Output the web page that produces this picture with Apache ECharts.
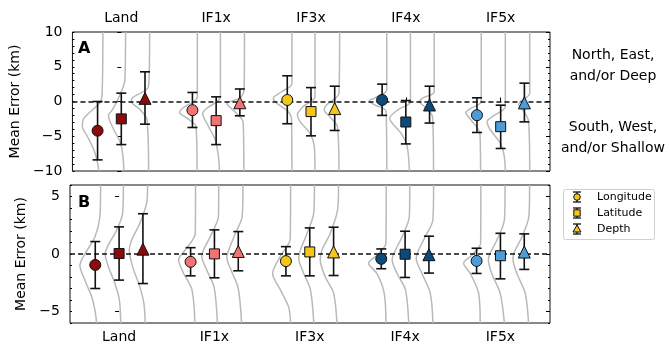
<!DOCTYPE html>
<html><head><meta charset="utf-8">
<script src="https://cdn.jsdelivr.net/npm/echarts@6/dist/echarts.min.js"></script>
<style>html,body{margin:0;padding:0;background:#fff}#c{width:670px;height:348px}</style>
</head><body><div id="c"></div>
<script>
// ---------------- DATA ----------------
const categories = ['Land', 'IF1x', 'IF3x', 'IF4x', 'IF5x'];
const variables = ['Longitude', 'Latitude', 'Depth'];
const yTicksA = [-10, -5, 0, 5, 10];
const yTicksB = [-5, 0, 5];

// Panel A: mean error and error-bar limits (km)
const A_lon_mean = [-4.2, -1.25, 0.22, 0.22, -1.97];
const A_lon_low  = [-8.4, -3.74, -3.2, -2.0, -4.46];
const A_lon_high = [0.0, 1.3, 3.7, 2.5, 0.53];
const A_lat_mean = [-2.5, -2.75, -1.45, -2.95, -3.62];
const A_lat_low  = [-6.2, -6.2, -4.94, -6.1, -6.76];
const A_lat_high = [1.2, 0.67, 2.0, 0.14, -0.53];
const A_dep_mean = [0.45, -0.18, -1.02, -0.5, -0.2];
const A_dep_low  = [-3.26, -2.06, -4.17, -3.1, -2.93];
const A_dep_high = [4.27, 1.8, 2.2, 2.2, 2.64];

// Panel B
const B_lon_mean = [-0.95, -0.68, -0.62, -0.42, -0.6];
const B_lon_low  = [-3.0, -1.9, -1.9, -1.28, -1.69];
const B_lon_high = [1.08, 0.55, 0.64, 0.44, 0.5];
const B_lat_mean = [0.04, 0.01, 0.18, -0.02, -0.15];
const B_lat_low  = [-2.27, -2.07, -1.9, -2.04, -2.16];
const B_lat_high = [2.36, 2.1, 2.27, 1.98, 1.8];
const B_dep_mean = [0.42, 0.22, 0.18, -0.06, 0.17];
const B_dep_low  = [-2.57, -1.46, -1.87, -1.66, -1.34];
const B_dep_high = [3.5, 1.95, 2.33, 1.55, 1.75];

// Distribution outlines: [error value, horizontal extent (x-axis units) relative to marker]
const A_lon_kde = [
  [[10,.056],[1.7,.049],[0,.031],[-2.4,-.143],[-3.6,-.161],[-5.0,-.108],[-7.0,-.038],[-8.4,-.007],[-10,.014]],
  [[10,.052],[0.7,.052],[-1.0,-.108],[-1.6,-.136],[-2.4,-.056],[-3.6,.038],[-10,.049]],
  [[10,.049],[2.6,.049],[1.4,-.059],[0.5,-.147],[-0.24,-.112],[-1.44,.010],[-2.6,.045],[-10,.049]],
  [[10,.049],[1.7,.049],[0.5,-.080],[0.14,-.133],[-0.5,-.080],[-1.4,.042],[-10,.049]],
  [[10,.045],[0,.045],[-1.0,-.066],[-1.6,-.119],[-2.6,-.066],[-4.6,.031],[-10,.038]]
];
const A_lat_kde = [
  [[10,.045],[3.1,.038],[0.5,-.03],[-1.2,-.094],[-2.0,-.136],[-4.1,-.077],[-6,-.007],[-7.9,.017],[-10,.028]],
  [[10,.045],[0.7,.045],[-1.0,-.10],[-1.7,-.143],[-3.6,-.08],[-5.5,-.01],[-7.9,.024],[-10,.035]],
  [[10,.042],[0.7,.042],[-0.7,-.080],[-1.9,-.143],[-2.9,-.115],[-4.6,-.010],[-6.5,.035],[-10,.042]],
  [[10,.049],[0,.049],[-1.2,-.084],[-2.4,-.171],[-4.6,-.049],[-6.5,.014],[-10,.038]],
  [[10,.049],[-0.7,.049],[-2.2,-.091],[-2.9,-.143],[-4.1,-.108],[-6,-.003],[-7.9,.038],[-10,.049]]
];
const A_dep_kde = [
  [[10,.049],[2.2,.038],[0.5,-.136],[0,-.143],[-1.2,-.049],[-2.6,.021],[-10,.038]],
  [[10,.049],[1.8,.045],[0.5,.0],[-0.3,-.137],[-1.5,-.05],[-3,.035],[-10,.042]],
  [[10,.052],[1.2,.045],[-0.5,-.087],[-1.2,-.112],[-2.2,-.052],[-3.6,.028],[-10,.045]],
  [[10,.049],[1.4,.049],[0.5,-.073],[0,-.108],[-0.7,-.056],[-2.2,.031],[-10,.042]],
  [[10,.056],[1.2,.056],[0,-.042],[-0.5,-.059],[-1.4,-.007],[-2.9,.045],[-10,.056]]
];
const B_lon_kde = [
  [[6,.056],[3.3,.049],[1.5,-.003],[-0.23,-.126],[-1,-.161],[-2.3,-.108],[-3.7,-.038],[-4.9,-.003],[-6,.014]],
  [[6,.052],[1.8,.049],[0.35,-.056],[-0.5,-.126],[-1.7,-.073],[-3.1,.014],[-6,.045]],
  [[6,.049],[1.3,.045],[-0.2,-.059],[-1.7,-.140],[-3.1,-.059],[-4.6,.028],[-6,.049]],
  [[6,.052],[0.93,.049],[-0.1,-.045],[-0.8,-.133],[-1.7,-.045],[-3.4,.031],[-6,.049]],
  [[6,.045],[0.93,.042],[-0.1,-.049],[-0.8,-.136],[-1.7,-.066],[-3.4,.021],[-6,.038]]
];
const B_lat_kde = [
  [[6,.045],[3.6,.038],[2.1,-.024],[0.8,-.112],[0,-.147],[-1.1,-.112],[-2.6,-.042],[-4,.003],[-6,.017]],
  [[6,.045],[3.3,.042],[1.5,-.045],[0.35,-.115],[-0.2,-.133],[-1.4,-.080],[-2.9,-.003],[-6,.031]],
  [[6,.049],[3.6,.042],[1.8,-.028],[0.35,-.098],[-0.4,-.115],[-1.7,-.063],[-3.1,.007],[-6,.042]],
  [[6,.049],[3.3,.045],[1.5,-.031],[0.35,-.101],[-0.5,-.136],[-1.7,-.084],[-3.1,.003],[-6,.038]],
  [[6,.049],[3,.042],[1.2,-.038],[0.06,-.108],[-0.5,-.126],[-1.7,-.091],[-3.4,-.003],[-6,.042]]
];
const B_dep_kde = [
  [[6,.049],[4.4,.038],[2.7,-.031],[1.2,-.119],[0.35,-.143],[-1.1,-.108],[-2.9,-.031],[-4.3,.010],[-6,.024]],
  [[6,.049],[3.3,.042],[1.8,-.03],[0.35,-.10],[-0.3,-.12],[-1.5,-.07],[-3,.0],[-6,.035]],
  [[6,.052],[3.85,.042],[1.8,-.035],[0.35,-.122],[-0.5,-.140],[-2,-.087],[-3.4,.0],[-6,.035]],
  [[6,.049],[3,.042],[1.5,-.038],[0.35,-.108],[-0.4,-.133],[-1.7,-.073],[-3.4,.014],[-6,.042]],
  [[6,.056],[3.3,.049],[1.5,-.024],[0.35,-.094],[-0.4,-.119],[-1.7,-.077],[-3.4,.010],[-6,.045]]
];

// ---------------- STYLE / LAYOUT ----------------
const colors = ['#8b0a0a', '#f07474', '#f5c518', '#0b4a7a', '#4d9cd6'];
const symbols = ['circle', 'rect', 'triangle'];
const symbolSizes = [11, 10, 12];
const offsets = [-0.25, 0, 0.25];
const XMIN = -0.515, XMAX = 4.52;
const FONT = 'DejaVu Sans';
const INK = '#000';

const panels = [
  {grid: 0, yAxis: 0, min: -10, max: 10, ticks: yTicksA,
   means: [A_lon_mean, A_lat_mean, A_dep_mean], lows: [A_lon_low, A_lat_low, A_dep_low],
   highs: [A_lon_high, A_lat_high, A_dep_high], kdes: [A_lon_kde, A_lat_kde, A_dep_kde]},
  {grid: 1, yAxis: 4, min: -6, max: 6, ticks: yTicksB,
   means: [B_lon_mean, B_lat_mean, B_dep_mean], lows: [B_lon_low, B_lat_low, B_dep_low],
   highs: [B_lon_high, B_lat_high, B_dep_high], kdes: [B_lon_kde, B_lat_kde, B_dep_kde]}
];

const minus = v => String(v).replace('-', '\u2212');
const catIdx = categories.map((c, i) => i);

const xAxis = [0, 1].map(g => ({
  gridIndex: g, type: 'value', position: g === 0 ? 'top' : 'bottom', min: XMIN, max: XMAX,
  axisLine: {show: false}, splitLine: {show: false},
  axisTick: {show: true, inside: false, length: 4, customValues: catIdx, lineStyle: {color: INK, width: 1}},
  axisLabel: {show: true, customValues: catIdx, formatter: v => categories[Math.round(v)] || '',
    fontFamily: FONT, fontSize: 14, color: INK, margin: 7}
}));

const yAxis = [];
panels.forEach(p => {
  yAxis.push({gridIndex: p.grid, type: 'value', position: 'left', min: p.min, max: p.max,
    axisLine: {show: false}, splitLine: {show: false},
    axisTick: {show: true, length: 4, customValues: p.ticks, lineStyle: {color: INK}},
    axisLabel: {customValues: p.ticks, formatter: minus, fontFamily: FONT, fontSize: 14, color: INK, margin: 10},
    name: 'Mean Error (km)', nameLocation: 'middle', nameGap: 36,
    nameTextStyle: {fontFamily: FONT, fontSize: 14, color: INK}});
  yAxis.push({gridIndex: p.grid, type: 'value', position: 'left', min: p.min, max: p.max, interval: 1,
    axisLine: {show: false}, splitLine: {show: false}, axisLabel: {show: false},
    axisTick: {show: true, inside: true, length: 2, lineStyle: {color: INK}}});
  yAxis.push({gridIndex: p.grid, type: 'value', position: 'right', min: p.min, max: p.max, interval: 1,
    axisLine: {show: false}, splitLine: {show: false}, axisLabel: {show: false},
    axisTick: {show: true, inside: true, length: 2, lineStyle: {color: INK}}});
  yAxis.push({gridIndex: p.grid, type: 'value', position: 'right', min: p.min, max: p.max,
    axisLine: {show: false}, splitLine: {show: false},
    axisLabel: {show: false, customValues: p.ticks},
    axisTick: {show: true, inside: true, length: 4, customValues: p.ticks, lineStyle: {color: INK}}});
});

function errRender(params, api) {
  const x = api.value(0), lo = api.value(1), hi = api.value(2);
  const a = api.coord([x, lo]), b = api.coord([x, hi]);
  const cw = 5;
  const st = {stroke: '#111', lineWidth: 1.6};
  return {type: 'group', children: [
    {type: 'line', shape: {x1: a[0], y1: a[1], x2: b[0], y2: b[1]}, style: st},
    {type: 'line', shape: {x1: a[0] - cw, y1: a[1], x2: a[0] + cw, y2: a[1]}, style: st},
    {type: 'line', shape: {x1: b[0] - cw, y1: b[1], x2: b[0] + cw, y2: b[1]}, style: st}
  ]};
}

const series = [];
panels.forEach(p => {
  variables.forEach((vname, j) => {
    categories.forEach((c, i) => {
      series.push({type: 'line', xAxisIndex: p.grid, yAxisIndex: p.yAxis, silent: true,
        data: p.kdes[j][i].map(([v, dx]) => [i + offsets[j] + dx, v]),
        showSymbol: false, symbol: 'none', smooth: 0.3, z: 1, clip: true,
        lineStyle: {color: '#b9b9b9', width: 1.5}});
    });
  });
  series.push({type: 'line', xAxisIndex: p.grid, yAxisIndex: p.yAxis, data: [], silent: true, z: 3,
    markLine: {silent: true, symbol: 'none', label: {show: false}, animation: false,
      lineStyle: {type: [5, 3], color: '#111', width: 1.6}, data: [{yAxis: 0}]}});
  variables.forEach((vname, j) => {
    series.push({type: 'custom', xAxisIndex: p.grid, yAxisIndex: p.yAxis, z: 4, silent: true,
      renderItem: errRender, encode: {x: 0, y: [1, 2]},
      data: categories.map((c, i) => [i + offsets[j], p.lows[j][i], p.highs[j][i]])});
    series.push({type: 'scatter', name: vname, xAxisIndex: p.grid, yAxisIndex: p.yAxis, z: 5, silent: true,
      symbol: symbols[j], symbolSize: symbolSizes[j],
      data: categories.map((c, i) => ({value: [i + offsets[j], p.means[j][i]],
        itemStyle: {color: colors[i], borderColor: '#111', borderWidth: 1, opacity: 1}}))});
  });
});

const legendRows = [197, 213, 229];
const legendChildren = [{type: 'rect', shape: {x: 563.5, y: 189.5, width: 91, height: 50, r: 2},
  style: {fill: '#fff', stroke: '#d0d0d0', lineWidth: 1}}];
variables.forEach((vname, j) => {
  const y = legendRows[j], x = 577;
  const st = {stroke: '#111', lineWidth: 1.3};
  legendChildren.push({type: 'line', shape: {x1: x, y1: y - 5, x2: x, y2: y + 5}, style: st});
  legendChildren.push({type: 'line', shape: {x1: x - 4, y1: y - 5, x2: x + 4, y2: y - 5}, style: st});
  legendChildren.push({type: 'line', shape: {x1: x - 4, y1: y + 5, x2: x + 4, y2: y + 5}, style: st});
  const ms = {fill: colors[2], stroke: '#111', lineWidth: 1};
  if (j === 0) legendChildren.push({type: 'circle', shape: {cx: x, cy: y, r: 3.3}, style: ms});
  if (j === 1) legendChildren.push({type: 'rect', shape: {x: x - 3.2, y: y - 3.2, width: 6.4, height: 6.4}, style: ms});
  if (j === 2) legendChildren.push({type: 'polygon', shape: {points: [[x, y - 4], [x - 4, y + 3], [x + 4, y + 3]]}, style: ms});
  legendChildren.push({type: 'text', style: {text: vname, x: 597, y: y, verticalAlign: 'middle',
    fontFamily: FONT, fontSize: 11, fill: INK}});
});

const graphic = [
  {type: 'group', children: legendChildren, z: 10},
  {type: 'text', style: {text: 'A', x: 78, y: 49, verticalAlign: 'middle', fontFamily: FONT, fontSize: 16, fontWeight: 'bold', fill: '#000'}, z: 10},
  {type: 'text', style: {text: 'B', x: 78, y: 203, verticalAlign: 'middle', fontFamily: FONT, fontSize: 16, fontWeight: 'bold', fill: '#000'}, z: 10},
  {type: 'text', style: {text: 'North, East,\nand/or Deep', x: 613, y: 66, align: 'center', verticalAlign: 'middle',
    fontFamily: FONT, fontSize: 14, lineHeight: 21, fill: INK}},
  {type: 'text', style: {text: 'South, West,\nand/or Shallow', x: 613, y: 138, align: 'center', verticalAlign: 'middle',
    fontFamily: FONT, fontSize: 14, lineHeight: 21, fill: INK}}
];

const chart = echarts.init(document.getElementById('c'), null, {renderer: 'canvas'});
chart.setOption({
  animation: false,
  backgroundColor: '#fff',
  grid: [
    {left: 70, top: 32, width: 480, height: 139, show: true, borderColor: '#111', borderWidth: 1, containLabel: false},
    {left: 70, top: 185, width: 480, height: 138, show: true, borderColor: '#111', borderWidth: 1, containLabel: false}
  ],
  xAxis, yAxis, series, graphic
});
</script></body></html>
